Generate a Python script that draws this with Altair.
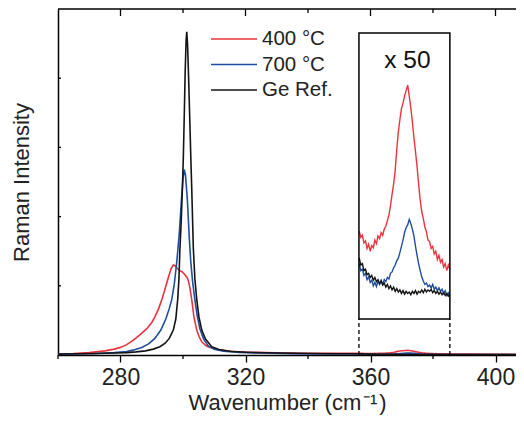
import altair as alt
import pandas as pd

SERIES = ["400 °C", "700 °C", "Ge Ref."]
COLORS = ["#EB333D", "#1F4E9E", "#141414"]

# ---------------- main spectra (wavenumber in cm-1, intensity a.u.) ----------------
red_wn = [260, 265, 270, 275, 278, 280, 282, 284, 286.2, 288.4,
          290, 291, 292.2, 293.2, 294.1, 294.8, 295.5, 296.2, 296.9, 297.5,
          298.2, 299.0, 299.8, 300.6, 301.3, 301.8, 302.2, 302.8, 303.5, 304.4,
          305.2, 306.0, 307.5, 309.2, 312, 316, 322, 330, 340, 350]
red_int = [0.012, 0.02, 0.035, 0.06, 0.085, 0.11, 0.15, 0.21, 0.29, 0.38,
           0.47, 0.55, 0.67, 0.8, 0.93, 1.04, 1.15, 1.25, 1.30, 1.29,
           1.25, 1.22, 1.2, 1.16, 1.12, 1.06, 0.97, 0.8, 0.55, 0.36,
           0.26, 0.19, 0.13, 0.1, 0.07, 0.05, 0.038, 0.03, 0.026, 0.024]

blue_wn = [260, 266, 272, 278, 282, 284, 286.8, 289, 291, 292.9,
           294.5, 295.6, 296.4, 297.2, 298.0, 298.8, 299.5, 300.0, 300.4, 300.8,
           301.4, 302.0, 302.5, 303.1, 303.8, 304.5, 305.4, 306.6, 308.1, 310,
           313, 318, 325, 335, 345, 352]
blue_int = [0.01, 0.015, 0.022, 0.035, 0.05, 0.07, 0.11, 0.16, 0.24, 0.36,
            0.52, 0.67, 0.8, 1.02, 1.34, 1.75, 2.24, 2.55, 2.68, 2.6,
            2.24, 1.7, 1.34, 1.05, 0.8, 0.58, 0.38, 0.23, 0.13, 0.085,
            0.055, 0.038, 0.028, 0.02, 0.016, 0.015]

black_wn = [260, 266, 272, 278, 282, 285, 288, 290.5, 292.6, 294.3,
            295.6, 296.9, 297.7, 298.3, 298.7, 299.0, 299.4, 299.8, 300.1, 300.4,
            300.7, 301.0, 301.2, 301.45, 301.8, 302.2, 302.5, 302.8, 303.3, 303.8,
            304.4, 305.1, 306.0, 307.2, 309.2, 311.5, 315, 320, 330, 340,
            350]
black_int = [0.015, 0.018, 0.022, 0.028, 0.035, 0.045, 0.06, 0.085, 0.12, 0.17,
             0.24, 0.36, 0.52, 0.8, 1.1, 1.52, 1.9, 2.4, 2.85, 3.45,
             4.1, 4.55, 4.67, 4.5, 4.0, 3.35, 2.85, 2.4, 1.55, 1.1,
             0.8, 0.55, 0.36, 0.23, 0.12, 0.08, 0.055, 0.04, 0.028, 0.022,
             0.019]

tail_wn = [390, 400, 409.12]
red_tail = [0.012, 0.009, 0.008]
blue_tail = [0.006, 0.005, 0.005]
black_tail = [0.007, 0.006, 0.006]

# ---------------- inset (x 50) spectra ----------------
INSET_FACTOR = 50
inset_wn = [356.4, 356.9, 357.4, 357.9, 358.4, 358.9, 359.4, 359.9, 360.4, 360.9,
            361.4, 361.9, 362.4, 362.9, 363.4, 363.9, 364.4, 364.9, 365.4, 365.9,
            366.4, 366.9, 367.4, 367.9, 368.4, 368.9, 369.4, 369.9, 370.4, 370.9,
            371.4, 371.9, 372.4, 372.9, 373.4, 373.9, 374.4, 374.9, 375.4, 375.9,
            376.4, 376.9, 377.4, 377.9, 378.4, 378.9, 379.4, 379.9, 380.4, 380.9,
            381.4, 381.9, 382.4, 382.9, 383.4, 383.9, 384.4, 384.9, 385.4]
red_inset = [1.27, 1.18, 1.21, 1.10, 1.13, 1.02, 1.08, 0.98, 1.06, 1.03,
             1.14, 1.09, 1.20, 1.16, 1.25, 1.21, 1.30, 1.34, 1.42, 1.50,
             1.64, 1.80, 1.95, 2.15, 2.45, 2.70, 2.88, 3.04, 3.12, 3.22,
             3.30, 3.38, 3.22, 3.05, 2.85, 2.62, 2.42, 2.20, 1.95, 1.72,
             1.55, 1.45, 1.33, 1.26, 1.14, 1.12, 1.02, 1.05, 0.94, 0.98,
             0.86, 0.92, 0.82, 0.86, 0.75, 0.80, 0.70, 0.78, 0.72]
blue_inset = [0.80, 0.70, 0.72, 0.63, 0.66, 0.57, 0.61, 0.53, 0.56, 0.48,
              0.53, 0.47, 0.55, 0.50, 0.56, 0.50, 0.57, 0.54, 0.60, 0.58,
              0.66, 0.68, 0.74, 0.78, 0.84, 0.88, 0.96, 1.05, 1.14, 1.25,
              1.32, 1.36, 1.44, 1.38, 1.30, 1.20, 1.05, 0.92, 0.80, 0.70,
              0.61, 0.55, 0.50, 0.52, 0.47, 0.49, 0.45, 0.50, 0.43, 0.46,
              0.41, 0.45, 0.40, 0.43, 0.37, 0.41, 0.34, 0.38, 0.33]
black_inset = [0.88, 0.78, 0.80, 0.70, 0.72, 0.64, 0.66, 0.60, 0.63, 0.56,
               0.60, 0.54, 0.57, 0.51, 0.55, 0.49, 0.52, 0.46, 0.50, 0.44,
               0.48, 0.42, 0.46, 0.40, 0.44, 0.39, 0.42, 0.37, 0.41, 0.36,
               0.40, 0.37, 0.39, 0.35, 0.40, 0.37, 0.41, 0.36, 0.40, 0.38,
               0.42, 0.38, 0.43, 0.39, 0.42, 0.40, 0.43, 0.38, 0.41, 0.37,
               0.40, 0.36, 0.39, 0.35, 0.38, 0.34, 0.37, 0.33, 0.35]

# axes / layout constants
W, H = 458, 346
PX_X = 3.125                      # pixels per cm-1
X_DOMAIN = [260, 260 + W / PX_X]
Y_DOMAIN = [0, 5]
X_MAJOR = [280, 320, 360, 400]
X_MINOR = [260, 300, 340, 380]
Y_TICKS = [1, 2, 3, 4]
INSET_WN = [356.3, 385.4]
INSET_BOTTOM = 0.52   # main-axis level of the inset box bottom
INSET_TOP = 4.653     # main-axis level of the inset box top
LABEL_POS = [371.8, 3.73]

PX_Y = H / (Y_DOMAIN[1] - Y_DOMAIN[0])
FONT = "Liberation Sans"


def frame(wn, vals, name):
    return pd.DataFrame({"wn": wn, "I": vals, "s": name})


main_df = pd.concat([
    frame(red_wn + inset_wn + tail_wn,
          red_int + [v / INSET_FACTOR for v in red_inset] + red_tail, SERIES[0]),
    frame(blue_wn + inset_wn + tail_wn,
          blue_int + [v / INSET_FACTOR for v in blue_inset] + blue_tail, SERIES[1]),
    frame(black_wn + inset_wn + tail_wn,
          black_int + [v / INSET_FACTOR for v in black_inset] + black_tail, SERIES[2]),
], ignore_index=True)
inset_df = pd.concat([
    frame(inset_wn, red_inset, SERIES[0]),
    frame(inset_wn, blue_inset, SERIES[1]),
    frame(inset_wn, black_inset, SERIES[2]),
], ignore_index=True)


def xs():
    return alt.Scale(domain=X_DOMAIN, nice=False, zero=False)


def ys():
    return alt.Scale(domain=Y_DOMAIN, nice=False, zero=False)


def ix():
    return alt.Scale(domain=INSET_WN, nice=False, zero=False,
                     range=[(INSET_WN[0] - X_DOMAIN[0]) * PX_X, (INSET_WN[1] - X_DOMAIN[0]) * PX_X])


def iy():
    return alt.Scale(domain=[0, INSET_TOP - INSET_BOTTOM], nice=False, zero=False,
                     range=[H - INSET_BOTTOM * PX_Y, H - INSET_TOP * PX_Y])


color = alt.Color("s:N", sort=SERIES,
                  scale=alt.Scale(domain=SERIES, range=COLORS),
                  legend=alt.Legend(title=None, orient="none", legendX=152, legendY=20,
                                    symbolType="stroke", symbolSize=2116,
                                    symbolStrokeWidth=1.6, labelFontSize=20.5,
                                    labelFont=FONT, labelColor="#222222",
                                    labelOffset=4, rowPadding=4.5, clipHeight=20,
                                    padding=0))

lines = alt.Chart(main_df).mark_line(strokeWidth=1.6, clip=True).encode(
    x=alt.X("wn:Q", scale=xs(),
            axis=alt.Axis(values=X_MAJOR, tickSize=7, orient="bottom",
                          title="Wavenumber (cm\u200a⁻¹\u200a)", labelPadding=4, titlePadding=3)),
    y=alt.Y("I:Q", scale=ys(),
            axis=alt.Axis(title="Raman Intensity", labels=False, ticks=False, orient="left",
                          titlePadding=25, titleFontSize=22)),
    color=color,
    order=alt.Order("s:N"),
)

one = pd.DataFrame({"a": [0]})
top_border = alt.Chart(one).mark_rule(color="black", strokeWidth=1.5).encode(y=alt.value(0))

dash_df = pd.DataFrame({"wn": INSET_WN, "y0": [0, 0], "y1": [INSET_BOTTOM, INSET_BOTTOM]})
dashes = alt.Chart(dash_df).mark_rule(color="black", strokeWidth=1.3, strokeDash=[4, 3]).encode(
    x=alt.X("wn:Q", scale=xs(), axis=None),
    y=alt.Y("y0:Q", scale=ys(), axis=None), y2="y1:Q")

top_major = alt.Chart(pd.DataFrame({"v": X_MAJOR})).mark_tick(
    color="black", size=7, thickness=1.3, opacity=1).encode(
    x=alt.X("v:Q", scale=xs(), axis=None), y=alt.value(3.5))
top_minor = alt.Chart(pd.DataFrame({"v": X_MINOR[1:]})).mark_tick(
    color="black", size=4, thickness=1.3, opacity=1).encode(
    x=alt.X("v:Q", scale=xs(), axis=None), y=alt.value(2))
bottom_minor = alt.Chart(pd.DataFrame({"v": X_MINOR})).mark_tick(
    color="black", size=4, thickness=1.3, opacity=1).encode(
    x=alt.X("v:Q", scale=xs(), axis=None), y=alt.value(H + 2))
left_ticks = alt.Chart(pd.DataFrame({"v": Y_TICKS})).mark_tick(
    color="black", size=3, thickness=1.3, opacity=1).encode(
    y=alt.Y("v:Q", scale=ys(), axis=None), x=alt.value(1.5))

inset_lines = alt.Chart(inset_df).mark_line(strokeWidth=1.4).encode(
    x=alt.X("wn:Q", scale=ix(), axis=None),
    y=alt.Y("I:Q", scale=iy(), axis=None),
    color=alt.Color("s:N", sort=SERIES, scale=alt.Scale(domain=SERIES, range=COLORS)),
    order=alt.Order("s:N"),
)
box_df = pd.DataFrame({"x0": [INSET_WN[0]], "x1": [INSET_WN[1]],
                       "y0": [0], "y1": [INSET_TOP - INSET_BOTTOM]})
box = alt.Chart(box_df).mark_rect(fill=None, stroke="black", strokeWidth=1.5).encode(
    x=alt.X("x0:Q", scale=ix(), axis=None), x2="x1:Q",
    y=alt.Y("y0:Q", scale=iy(), axis=None), y2="y1:Q")
label = alt.Chart(pd.DataFrame({"x": [LABEL_POS[0]], "y": [LABEL_POS[1]], "t": ["x 50"]})).mark_text(
    font=FONT, fontSize=24.5, color="#111111", align="center", baseline="middle").encode(
    x=alt.X("x:Q", scale=ix(), axis=None), y=alt.Y("y:Q", scale=iy(), axis=None), text="t:N")

chart = alt.layer(
    lines, top_border, dashes, top_major, top_minor, bottom_minor, left_ticks,
    inset_lines, box, label,
).resolve_scale(x="independent", y="independent").properties(
    width=W, height=H,
    autosize=alt.AutoSizeParams(type="none"),
    padding={"left": 50, "top": 1, "right": 0, "bottom": 62},
).configure_view(stroke=None).configure_axis(
    grid=False, domainColor="black", domainWidth=1.5, tickColor="black", tickWidth=1.3,
    labelFont=FONT, labelFontSize=23, labelColor="#222222",
    titleFont=FONT, titleFontSize=22, titleFontWeight="normal", titleColor="#222222",
)

chart.save("out.html", embed_options={"renderer": "svg", "actions": False})
